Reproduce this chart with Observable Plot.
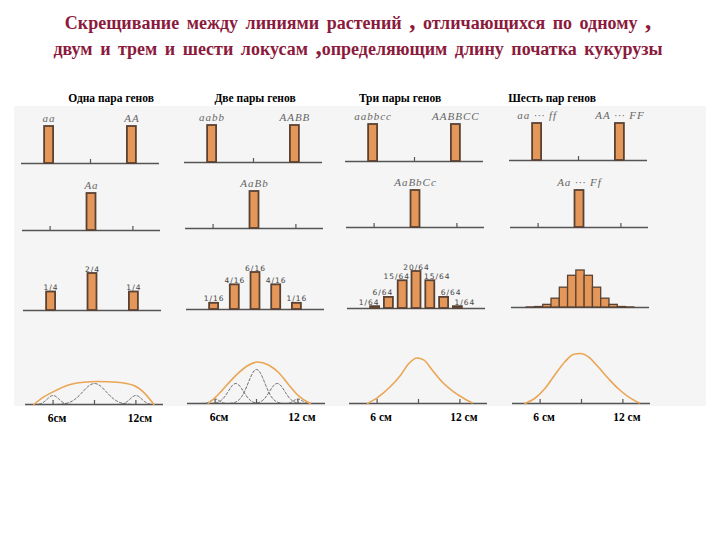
<!DOCTYPE html>
<html>
<head>
<meta charset="utf-8">
<script src="https://cdn.jsdelivr.net/npm/d3@7"></script>
<script src="https://cdn.jsdelivr.net/npm/@observablehq/plot@0.6"></script>
<style>
  body { margin: 0; background: #fff; }
  #root { position: relative; width: 720px; height: 540px; overflow: hidden; font-family: "Liberation Serif", "Times New Roman", serif; }
  .title { position: absolute; left: 0; width: 716px; text-align: center; color: #8b1a3c; font-weight: bold; font-size: 18px; word-spacing: 3px; white-space: nowrap; line-height: 24px; }
  .title .big { font-size: 25px; }
  .hdr { position: absolute; top: 92px; font-weight: bold; font-size: 11.5px; transform: translateX(-50%); white-space: nowrap; color: #000; }
  #bg { position: absolute; left: 14px; top: 106px; width: 692px; height: 300px; background: #f5f5f5; }
</style>
</head>
<body>
<div id="root">
  <div id="bg"></div>
  <div class="title" style="top:9px">Скрещивание между линиями растений <span class="big">,</span> отличающихся по одному <span class="big">,</span></div>
  <div class="title" style="top:35px">двум и трем и шести локусам <span class="big">,</span>определяющим длину початка кукурузы</div>
</div>
<script>
// ---------- data ----------
const columnTitles = ["Одна пара генов", "Две пары генов", "Три пары генов", "Шесть пар генов"];
const parentLabels = [["aa", "AA"], ["aabb", "AABB"], ["aabbcc", "AABBCC"], ["aa ··· ff", "AA ··· FF"]];
const hybridLabels = ["Aa", "AaBb", "AaBbCc", "Aa ··· Ff"];
const parentLength = [6, 12];      // cm
const hybridLength = [9];          // cm
const scaleTicks = [6, 9, 12];     // cm

// F2 classes: ear length (cm) and frequency
const f2Length1 = [6, 9, 12];
const f2Freq1 = [1/4, 2/4, 1/4];
const f2Label1 = ["1/4", "2/4", "1/4"];
const f2Length2 = [6, 7.5, 9, 10.5, 12];
const f2Freq2 = [1/16, 4/16, 6/16, 4/16, 1/16];
const f2Label2 = ["1/16", "4/16", "6/16", "4/16", "1/16"];
const f2Length3 = [6, 7, 8, 9, 10, 11, 12];
const f2Freq3 = [1/64, 6/64, 15/64, 20/64, 15/64, 6/64, 1/64];
const f2Label3 = ["1/64", "6/64", "15/64", "20/64", "15/64", "6/64", "1/64"];
const f2Length6 = [5.4, 6.0, 6.6, 7.2, 7.8, 8.4, 9.0, 9.6, 10.2, 10.8, 11.4, 12.0, 12.6];
const f2Count6 = [1, 12, 66, 220, 495, 792, 924, 792, 495, 220, 66, 12, 1]; // of 4096

// Phenotype curves: length cm, relative height
const curveLength1 = [4.6, 5.3, 6.05, 7.0, 8.2, 9.2, 10.65, 11.85, 12.55, 13.3];
const curveHeight1 = [0, 7.3, 13, 19, 22.3, 23, 22.3, 19, 12.3, 0];
const curveLength2 = [5.5, 6.15, 6.9, 7.6, 8.35, 9.05, 9.9, 10.6, 11.3, 12.05, 12.9];
const curveHeight2 = [0, 7.7, 19.3, 29.3, 37.7, 41.5, 38.3, 31, 19.3, 7.7, 0];
const curveLength3 = [5.3, 6.1, 6.95, 7.7, 8.3, 8.9, 9.4, 10.0, 10.7, 11.55, 12.3, 12.9];
const curveHeight3 = [0, 6.7, 16.7, 28.3, 40, 45.5, 43.3, 33.3, 21.7, 11.7, 5, 0.5];
const curveLength6 = [4.9, 5.6, 6.35, 7.05, 7.8, 8.4, 8.9, 9.5, 10.2, 10.95, 11.65, 12.4, 13.2];
const curveHeight6 = [0, 5, 15, 28.3, 41.7, 49, 50, 46.7, 36.7, 25, 15, 6.7, 0.5];
// Component (genotype class) curves: centre cm, peak height, spread cm
const compCenter1 = [6, 9, 12];
const compPeak1 = [9, 21, 9];
const compSpread1 = [0.42, 0.85, 0.42];
const compCenter2 = [6, 7.5, 9, 10.5, 12];
const compPeak2 = [4.5, 20, 34, 20, 4.5];
const compSpread2 = [0.3, 0.55, 0.6, 0.55, 0.3];

const scaleLabels = [["6см", "12см"], ["6см", "12 см"], ["6 см", "12 см"], ["6 см", "12 см"]];

// ---------- styles / layout ----------
const BAR = "#e49758", BAR_STROKE = "#5a4233", AXIS = "#555", ORANGE = "#eaa555";
const XW = 138, PAD = 6, XD = [4, 14], BW = 0.65;
const colCenter = [90, 252.5, 414, 577.5];
const rowShift = [0, 1, 2, 3.5];
const rowBase = [[163, 162, 161, 160], [230, 228, 227, 227], [310, 309, 308, 307], [404, 403, 403, 403]];
const root = document.getElementById("root");

function place(svg, r, c, marginTop) {
  svg.style.position = "absolute";
  svg.style.left = (colCenter[c] + rowShift[r] - XW / 2 - PAD) + "px";
  svg.style.top = (rowBase[r][c] - marginTop - (r === 3 ? 52 : 37)) + "px";
  root.appendChild(svg);
}

columnTitles.forEach((t, c) => {
  const d = document.createElement("div");
  d.className = "hdr";
  d.style.left = [111, 255, 400, 552][c] + "px";
  d.textContent = t;
  root.appendChild(d);
});

const baseOpts = (mt, mb, ih, ydom) => ({
  width: XW + 2 * PAD, height: mt + ih + mb,
  marginLeft: PAD, marginRight: PAD, marginTop: mt, marginBottom: mb,
  x: {domain: XD, axis: null}, y: {domain: ydom, axis: null},
  style: {background: "none", overflow: "visible"}
});

const barMark = (data, w, sw) => Plot.rect(data, {
  x1: d => d.x - w / 2, x2: d => d.x + w / 2, y1: 0, y2: "h",
  fill: BAR, stroke: BAR_STROKE, strokeWidth: sw
});
const tickMark = (xs) => Plot.ruleX(xs, {x: d => d, y1: 0, y2: 0, insetTop: -4, stroke: AXIS, strokeWidth: 1.2});
const genoText = (data) => Plot.text(data, {
  x: "x", y: "h", text: "label", dy: -5, lineAnchor: "bottom",
  fontStyle: "italic", fontSize: 11, fill: "#666", fontFamily: "Liberation Serif, serif"
});

for (let c = 0; c < 4; c++) {
  // Row 1: parents
  const p = parentLength.map((x, i) => ({x, h: 1, label: parentLabels[c][i]}));
  place(Plot.plot({...baseOpts(22, 3, 37, [0, 1]),
    style: {background: "none", overflow: "visible", letterSpacing: "1px"},
    marks: [
      Plot.ruleY([0], {stroke: AXIS, strokeWidth: 1.3}),
      tickMark(scaleTicks.filter(t => !parentLength.includes(t))),
      barMark(p, BW, 1.8),
      genoText(p)
    ]}), 0, c, 22);

  // Row 2: F1 hybrid
  const h = hybridLength.map(x => ({x, h: 1, label: hybridLabels[c]}));
  place(Plot.plot({...baseOpts(22, 3, 37, [0, 1]),
    style: {background: "none", overflow: "visible", letterSpacing: "1px"},
    marks: [
      Plot.ruleY([0], {stroke: AXIS, strokeWidth: 1.3}),
      tickMark(scaleTicks.filter(t => !hybridLength.includes(t))),
      barMark(h, BW, 1.8),
      genoText(h)
    ]}), 1, c, 22);
}

// Row 3: F2 distributions
const f2 = [
  f2Length1.map((x, i) => ({x, h: f2Freq1[i], label: f2Label1[i]})),
  f2Length2.map((x, i) => ({x, h: f2Freq2[i], label: f2Label2[i]})),
  f2Length3.map((x, i) => ({x, h: f2Freq3[i], label: f2Label3[i]})),
  f2Length6.map((x, i) => ({x, h: f2Count6[i] / 4096, label: ""}))
];
f2.forEach((data, c) => {
  const ymax = d3.max(data, d => d.h);
  const fracText = (sub, dx) => Plot.text(sub, {
    x: "x", y: "h", text: "label", dy: -2, dx, lineAnchor: "bottom",
    fontSize: 7.5, fill: "#444", fontFamily: "DejaVu Sans, sans-serif"
  });
  const marks = [Plot.ruleY([0], {stroke: AXIS, strokeWidth: 1.3})];
  if (c === 3) {
    marks.push(barMark(data, 0.6, 1.3));
  } else {
    marks.push(barMark(data, BW, 1.8));
    if (c === 2) {
      marks.push(fracText(data.filter(d => d.x < 9), -6));
      marks.push(fracText(data.filter(d => d.x === 9), 0));
      marks.push(fracText(data.filter(d => d.x > 9), 7));
    } else {
      marks.push(fracText(data, 0));
    }
  }
  place(Plot.plot({...baseOpts(22, 3, 37, [0, ymax]),
    style: {background: "none", overflow: "visible", letterSpacing: "1px"},
    marks}), 2, c, 22);
});

// Row 4: phenotype curves
const curves = [
  curveLength1.map((x, i) => ({x, y: curveHeight1[i]})),
  curveLength2.map((x, i) => ({x, y: curveHeight2[i]})),
  curveLength3.map((x, i) => ({x, y: curveHeight3[i]})),
  curveLength6.map((x, i) => ({x, y: curveHeight6[i]}))
];
const comps = [
  compCenter1.map((m, i) => ({m, a: compPeak1[i], s: compSpread1[i]})),
  compCenter2.map((m, i) => ({m, a: compPeak2[i], s: compSpread2[i]})),
  [], []
];
curves.forEach((pts, c) => {
  const dashed = [];
  comps[c].forEach((g, k) => {
    d3.range(-3.2, 3.2001, 0.1).forEach(t => dashed.push({k, x: g.m + t * g.s, y: g.a * Math.exp(-t * t / 2)}));
  });
  const labels = [6, 12].map((x, i) => ({x, label: scaleLabels[c][i]}));
  place(Plot.plot({...baseOpts(4, 24, 52, [0, 52]),
    marks: [
      Plot.ruleY([0], {stroke: AXIS, strokeWidth: 1.3}),
      tickMark(scaleTicks),
      Plot.line(dashed, {x: "x", y: "y", z: "k", stroke: "#555", strokeWidth: 0.9, strokeDasharray: "2.5,2", curve: "monotone-x"}),
      Plot.line(pts, {x: "x", y: "y", stroke: ORANGE, strokeWidth: 1.6, curve: "monotone-x"}),
      Plot.text(labels, {x: "x", y: 0, text: "label", dy: 14, dx: 4, fontWeight: "bold", fontSize: 11.5, fill: "#000", fontFamily: "Liberation Serif, serif"})
    ]}), 3, c, 4);
});
</script>
</body>
</html>
